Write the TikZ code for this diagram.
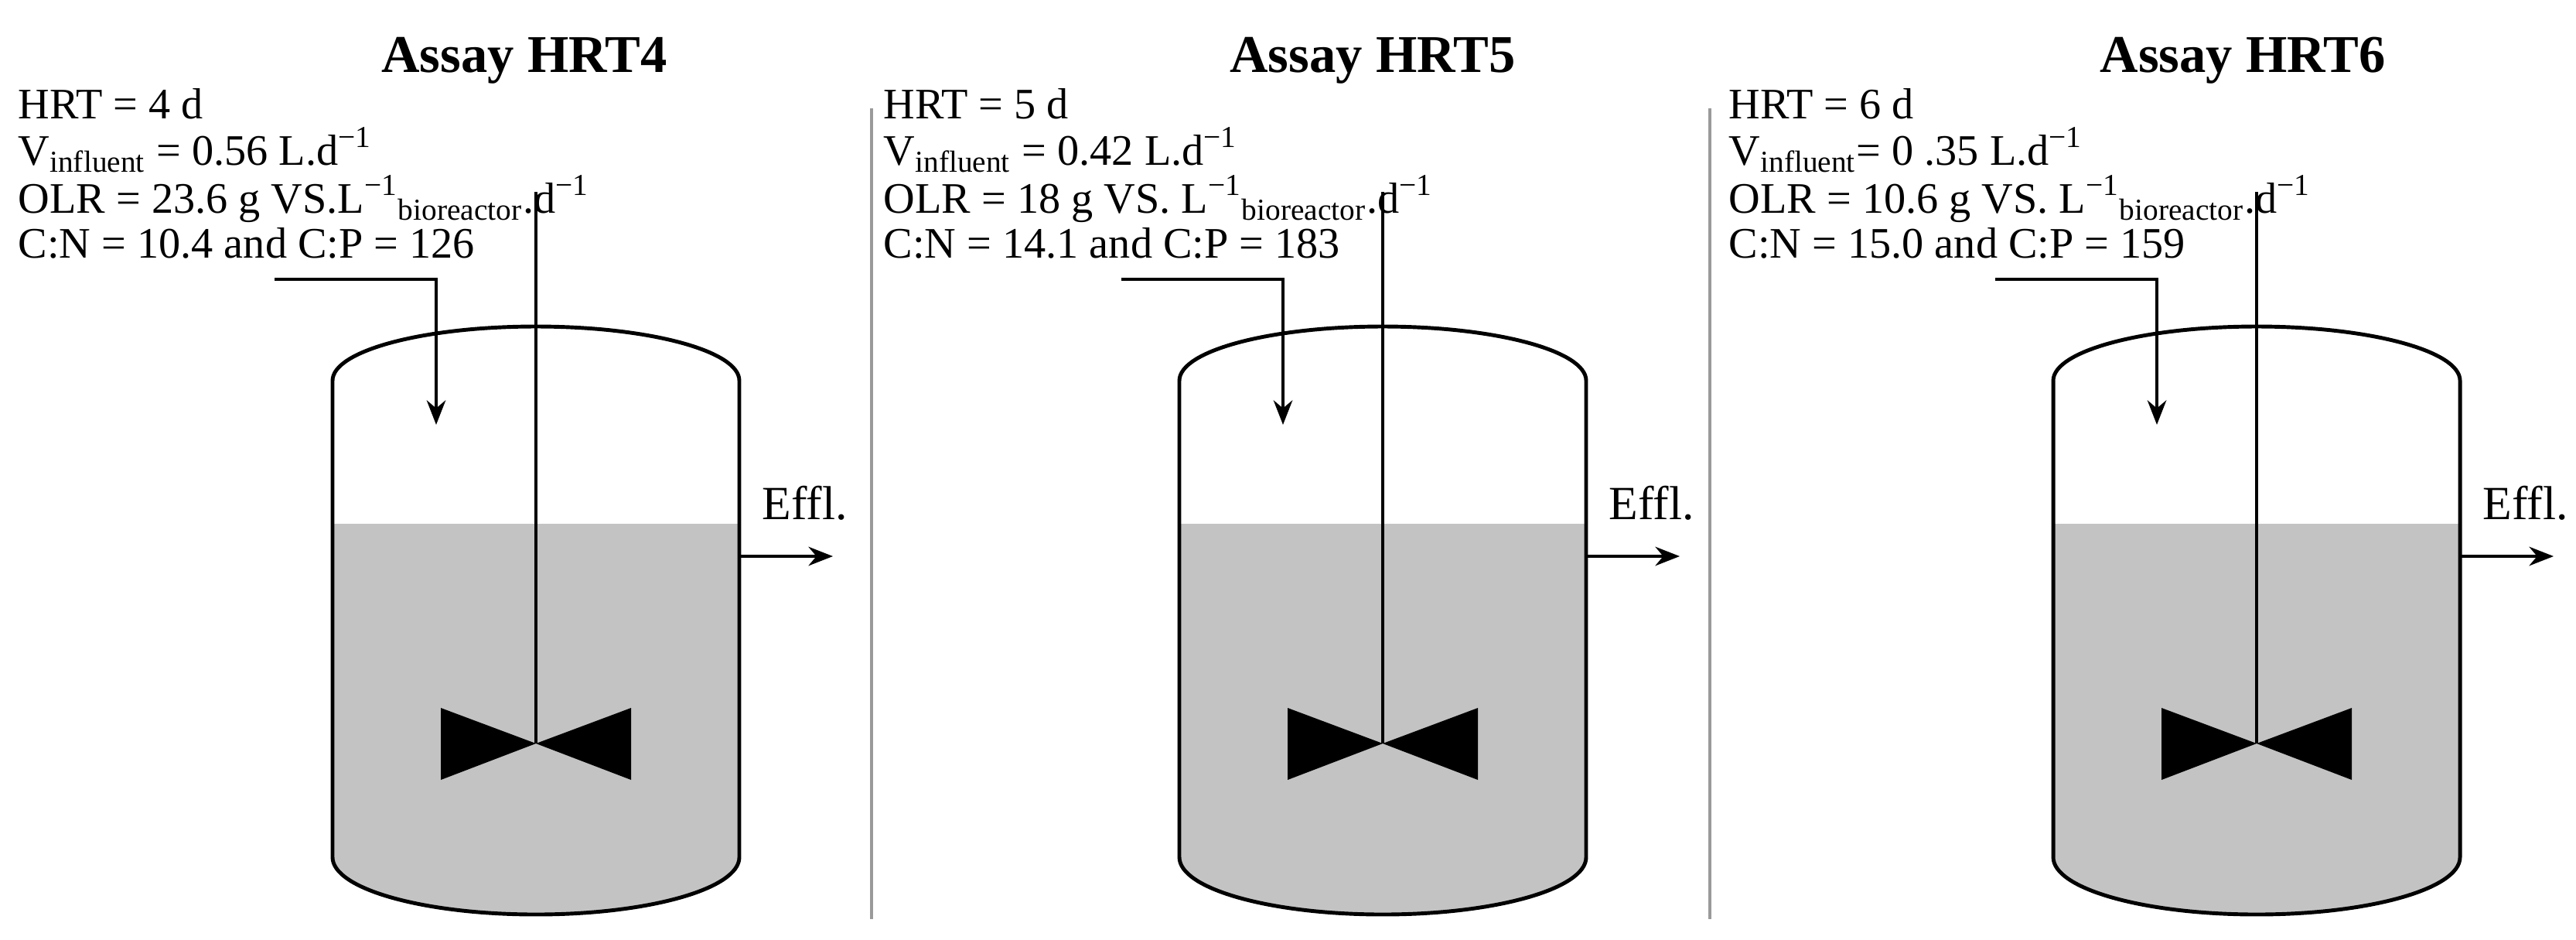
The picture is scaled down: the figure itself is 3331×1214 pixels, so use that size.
\documentclass[tikz,border=0pt]{standalone}
\usepackage{fontspec}
\setmainfont{Liberation Serif}
\usetikzlibrary{arrows.meta}
\definecolor{liq}{HTML}{C3C3C3}
\definecolor{sep}{HTML}{9A9A9A}
\tikzset{
  wall/.style={draw=black,line width=1.4pt},
  shaftline/.style={draw=black,line width=0.9pt},
  flow/.style={draw=black,line width=0.9pt,-{Stealth[length=9pt,width=7pt]}},
  info/.style={anchor=base west,inner sep=0pt,font=\fontsize{16}{18}\selectfont},
  ttl/.style={anchor=base,inner sep=0pt,font=\fontsize{19.5}{21}\bfseries\selectfont},
  effl/.style={anchor=base west,inner sep=0pt,font=\fontsize{17.5}{19}\selectfont},
  sepline/.style={draw=sep,line width=1.1pt}
}
\newcommand{\reactor}[2]{%
  \begin{scope}[xshift=#1*0.01cm]
    \fill[liq] (-263,677) -- (263,677) -- (263,1108) arc[start angle=0,end angle=180,x radius=263,y radius=74] -- cycle;
    \draw[wall] (-263,492) arc[start angle=180,end angle=360,x radius=263,y radius=70] -- (263,1108) arc[start angle=0,end angle=180,x radius=263,y radius=74] -- cycle;
    \coordinate (#2top) at (0,248);
    \coordinate (#2hub) at (0,961);
    \draw[shaftline] (#2top) -- (#2hub);
    \fill[black] (#2hub) -- (-123,915) -- (-123,1008) -- cycle;
    \fill[black] (#2hub) -- (123,915) -- (123,1008) -- cycle;
    \coordinate (#2in) at (-338,361);
    \coordinate (#2bend) at (-129,361);
    \coordinate (#2drop) at (-129,549);
    \draw[flow] (#2in) -- (#2bend) -- (#2drop);
    \coordinate (#2out) at (263,719);
    \coordinate (#2end) at (384,719);
    \draw[flow] (#2out) -- (#2end);
    \node[effl] (#2effl) at (292,671) {Effl.};
  \end{scope}}
\begin{document}
\begin{tikzpicture}[x=0.01cm,y=-0.01cm]
\useasboundingbox (0,0) rectangle (3331,1214);
\reactor{693}{a}
\reactor{1788}{b}
\reactor{2918}{c}
\coordinate (s1t) at (1127,140); \coordinate (s1b) at (1127,1188);
\coordinate (s2t) at (2211,140); \coordinate (s2b) at (2211,1188);
\draw[sepline] (s1t) -- (s1b);
\draw[sepline] (s2t) -- (s2b);
\node[ttl] (t1) at (678,93) {Assay HRT4};
\node[ttl] (t2) at (1775,93) {Assay HRT5};
\node[ttl] (t3) at (2900,93) {Assay HRT6};
\node[info] (a1) at (23,153) {HRT = 4 d};
\node[info] (a2) at (23,213) {V\textsubscript{influent} = 0.56 L.d\textsuperscript{−1}};
\node[info] (a3) at (23,275) {OLR = 23.6 g VS.L\textsuperscript{−1}\textsubscript{bioreactor}.d\textsuperscript{−1}};
\node[info] (a4) at (23,333) {C:N = 10.4 and C:P = 126};
\node[info] (b1) at (1142,153) {HRT = 5 d};
\node[info] (b2) at (1142,213) {V\textsubscript{influent} = 0.42 L.d\textsuperscript{−1}};
\node[info] (b3) at (1142,275) {OLR = 18 g VS. L\textsuperscript{−1}\textsubscript{bioreactor}.d\textsuperscript{−1}};
\node[info] (b4) at (1142,333) {C:N = 14.1 and C:P = 183};
\node[info] (c1) at (2235,153) {HRT = 6 d};
\node[info] (c2) at (2235,213) {V\textsubscript{influent}= 0 .35 L.d\textsuperscript{−1}};
\node[info] (c3) at (2235,275) {OLR = 10.6 g VS. L\textsuperscript{−1}\textsubscript{bioreactor}.d\textsuperscript{−1}};
\node[info] (c4) at (2235,333) {C:N = 15.0 and C:P = 159};
\end{tikzpicture}
\end{document}
